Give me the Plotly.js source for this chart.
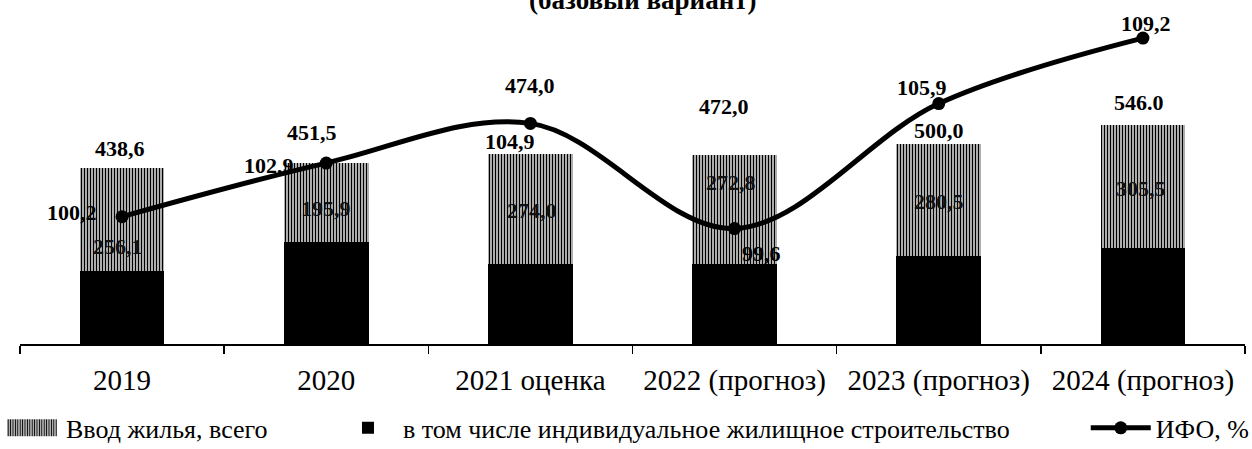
<!DOCTYPE html>
<html>
<head>
<meta charset="utf-8">
<script src="https://cdn.plot.ly/plotly-3.0.1.min.js"></script>
<style>
  body { margin: 0; background: #fff; }
  #myDiv { width: 1252px; height: 449px; }
</style>
</head>
<body>
<div id="myDiv"></div>
<script>
// Data
const categories = ["2019", "2020", "2021 оценка", "2022 (прогноз)", "2023 (прогноз)", "2024 (прогноз)"];
const housingTotal = [438.6, 451.5, 474.0, 472.0, 500.0, 546.0];
const totalText = ["438,6", "451,5", "474,0", "472,0", "500,0", "546.0"];
const otherPart = [256.1, 195.9, 274.0, 272.8, 280.5, 305.5];
const ifo = [100.2, 102.9, 104.9, 99.6, 105.9, 109.2];

// individual housing = total minus the labelled upper part
const individual = housingTotal.map((t, i) => +(t - otherPart[i]).toFixed(1));

// label offsets in px [x, y-up]
const totalShift = [[-2, 20], [-14, 30], [0, 68], [-11, 48], [0, 13], [-4, 23]];
const partShift = [[-4, -27], [0, -6], [2, -2], [-4, 27], [0, -2], [-2, -2]];
const ifoShift = [[-50, 4], [-57, -2], [-20, -18], [27, -25], [-17, 16], [3, 15]];

const fmt = v => v.toFixed(1).replace(".", ",");
const serif = '"Liberation Serif", "Times New Roman", serif';

var data = [
  {
    type: "bar",
    x: categories,
    y: individual,
    name: "в том числе индивидуальное жилищное строительство",
    marker: { color: "#000" },
    legend: "legend2",
    hoverinfo: "y",
  },
  {
    type: "bar",
    x: categories,
    y: otherPart,
    name: "Ввод жилья, всего",
    marker: {
      color: "#fff",
      pattern: { shape: "|", fgcolor: "#000", bgcolor: "#fff", size: 3, solidity: 0.55 },
    },
    legend: "legend",
    hoverinfo: "y",
  },
  {
    type: "scatter",
    mode: "lines+markers",
    x: categories,
    y: ifo,
    yaxis: "y2",
    name: "ИФО, %",
    line: { color: "#000", width: 5, shape: "spline", smoothing: 1 },
    marker: { color: "#000", size: 13 },
    legend: "legend3",
    cliponaxis: false,
  },
];

// annotations sit on category index i (a numeric-looking name like "2019" would be read as an index)
var annotations = [];
categories.forEach((c, i) => {
  annotations.push({
    x: i, y: housingTotal[i], xref: "x", yref: "y",
    text: totalText[i], showarrow: false,
    xshift: totalShift[i][0], yshift: totalShift[i][1],
    font: { family: serif, size: 22, color: "#000", weight: "bold" },
  });
  annotations.push({
    x: i, y: individual[i] + otherPart[i] / 2, xref: "x", yref: "y",
    text: fmt(otherPart[i]), showarrow: false,
    xshift: partShift[i][0], yshift: partShift[i][1],
    font: { family: serif, size: 22, color: "#111", weight: "bold" },
  });
  annotations.push({
    x: i, y: ifo[i], xref: "x", yref: "y2",
    text: fmt(ifo[i]), showarrow: false,
    xshift: ifoShift[i][0], yshift: ifoShift[i][1],
    font: { family: serif, size: 22, color: "#000", weight: "bold" },
  });
});

// title, cut off by the top edge as in the scan
annotations.push({
  x: 0.508, y: 1, xref: "paper", yref: "paper",
  xanchor: "center", yanchor: "middle", yshift: 0,
  text: "(базовый вариант)", showarrow: false,
  font: { family: serif, size: 27, color: "#000", weight: "bold" },
});

const legendFont = { family: serif, size: 26, color: "#000" };
const legendBase = { y: -0.244, xanchor: "left", yanchor: "middle", font: legendFont, bgcolor: "rgba(0,0,0,0)", itemwidth: 60 };

var layout = {
  width: 1252,
  height: 449,
  margin: { l: 20, r: 7, t: 0, b: 105, autoexpand: false },
  paper_bgcolor: "#fff",
  plot_bgcolor: "#fff",
  barmode: "stack",
  bargap: 0.585,
  font: { family: serif, color: "#000" },
  xaxis: {
    type: "category",
    range: [-0.5, 5.5],
    showline: true,
    linecolor: "#000",
    linewidth: 1.5,
    ticks: "outside",
    tickson: "boundaries",
    ticklen: 8,
    tickwidth: 1.5,
    tickcolor: "#000",
    showgrid: false,
    tickangle: 0,
    ticklabelstandoff: 10,
    tickfont: { family: serif, size: 29, color: "#000" },
  },
  yaxis: { range: [0, 858], visible: false, fixedrange: true },
  yaxis2: { range: [93.78, 111.12], overlaying: "y", visible: false },
  showlegend: true,
  legend: Object.assign({ x: -0.0196 }, legendBase),
  legend2: Object.assign({ x: 0.2555 }, legendBase),
  legend3: Object.assign({ x: 0.870 }, legendBase),
  annotations: annotations,
};

// widen the bar swatches to the scan's wide boxes (line symbol is already 60px via itemwidth)
// idempotent, so it is safe to re-run after late legend draws
function fitSymbols() {
  const paths = new Set([
    ...document.querySelectorAll("path.legendundefined"),
    ...document.querySelectorAll("g.legendpoints path"),
  ]);
  paths.forEach(pt => {
    try {
      if (pt.classList.contains("scatterpts") || pt.classList.contains("js-line")) return;
      const box = pt.closest("g.traces") || pt.closest("g.scrollbox");
      if (!box) return;
      const txt = box.querySelector("text.legendtext");
      if (!txt) return;
      const tl = txt.getBoundingClientRect().left;
      const right = pt.getBBox().x + (tl - 9 - pt.getBoundingClientRect().left);
      if (!isFinite(right)) return;
      pt.setAttribute("d", `M${right - 50},-8.5H${right}V8.5H${right - 50}Z`);
    } catch (e) { /* leave the default swatch */ }
  });
}

Plotly.newPlot("myDiv", data, layout, { displayModeBar: false, staticPlot: true }).then(gd => {
  fitSymbols();
  requestAnimationFrame(fitSymbols);
  [50, 150, 400, 800].forEach(t => setTimeout(fitSymbols, t));
  gd.on("plotly_afterplot", fitSymbols);
});
</script>
</body>
</html>
